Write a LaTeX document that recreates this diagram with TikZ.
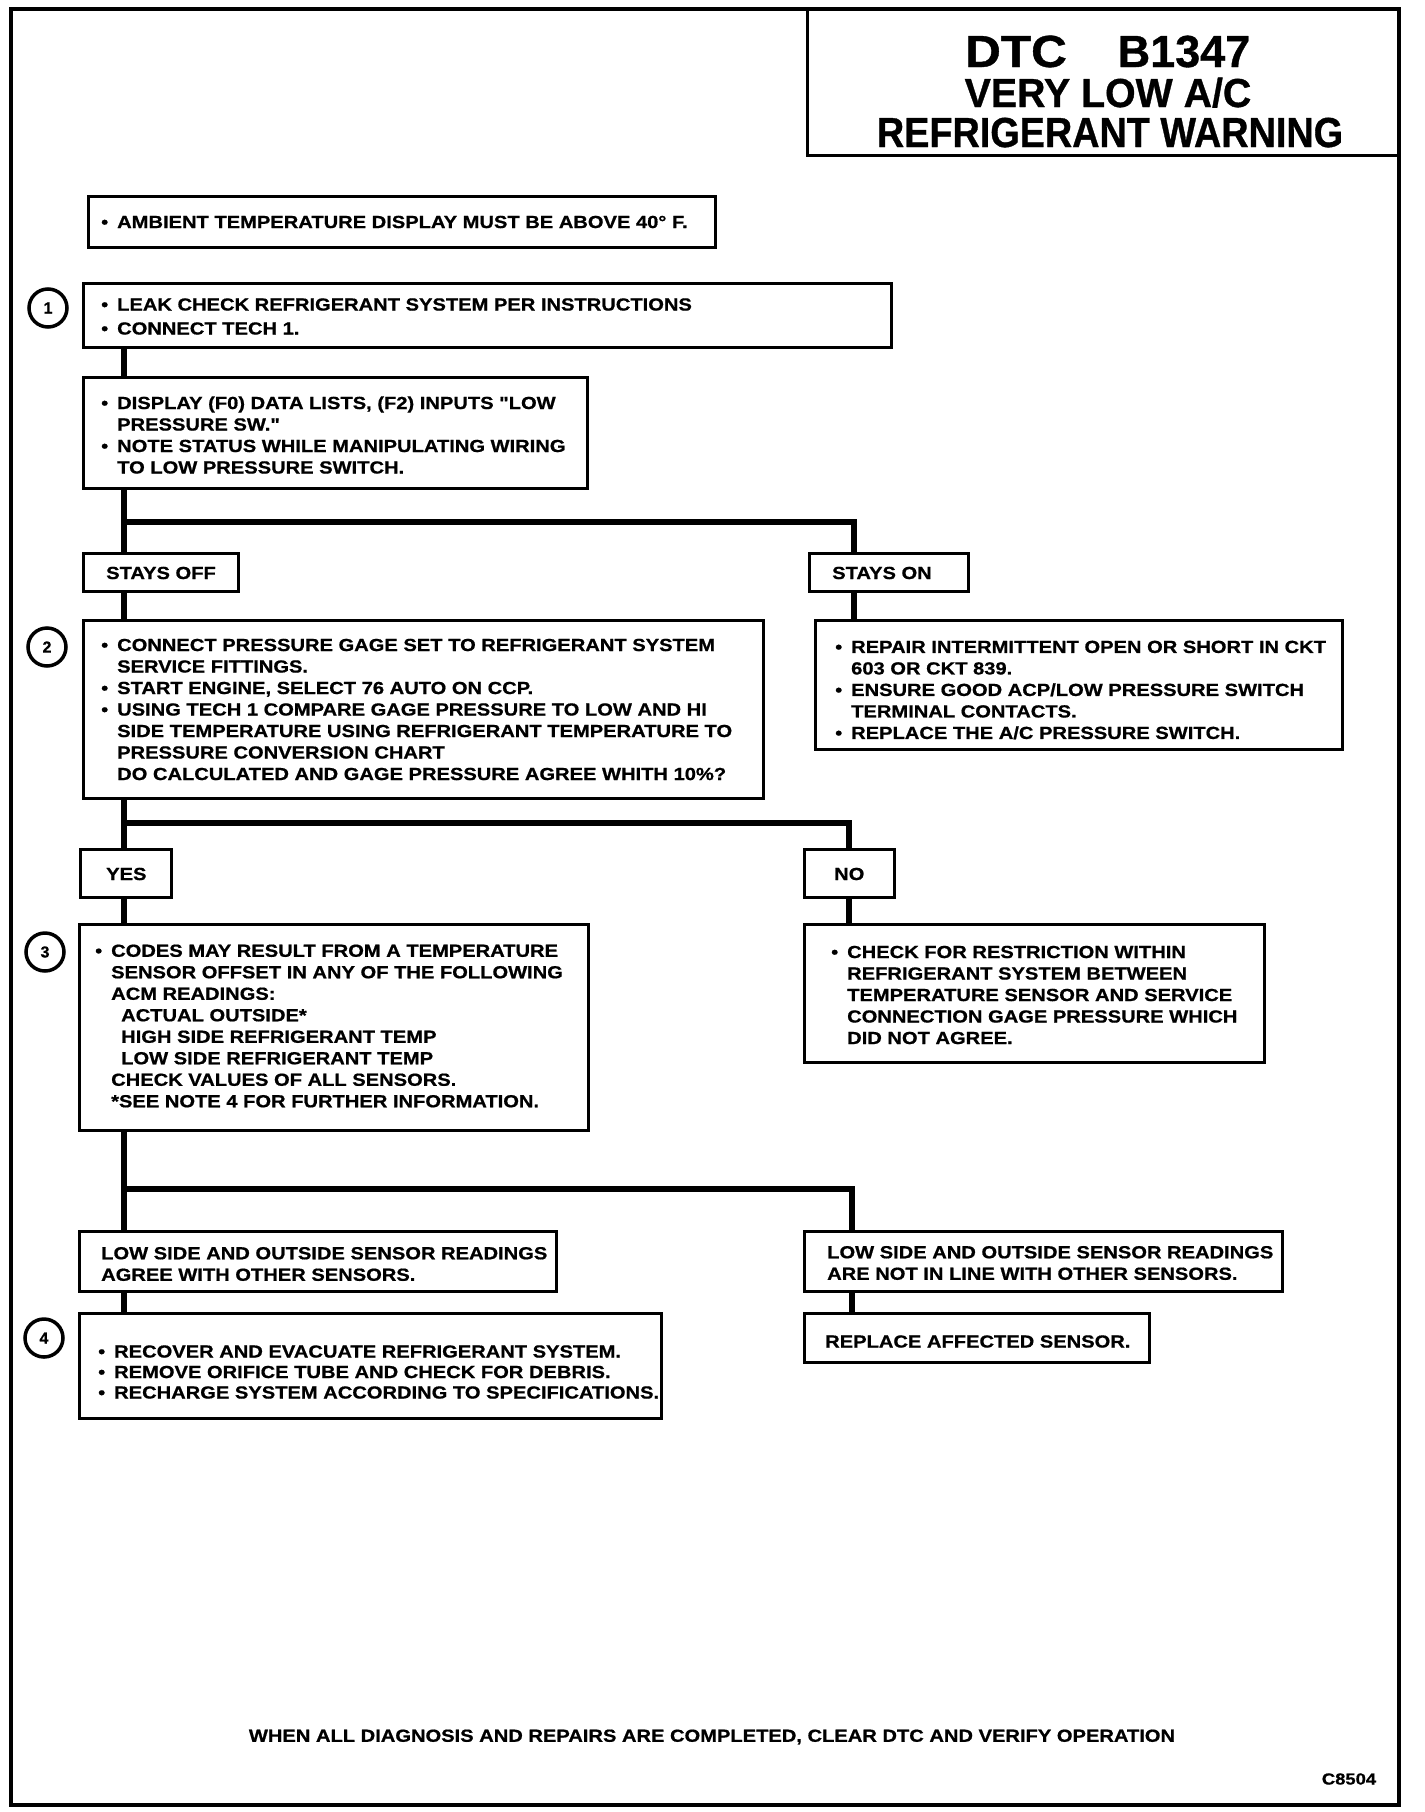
\documentclass[tikz,border=0pt]{standalone}
\usepackage{fontspec}
\usepackage{graphicx}
\usetikzlibrary{fit}
\newfontfamily\bodyf[FakeStretch=1.15,FakeBold=0.8]{Liberation Sans}
\newfontfamily\titlef[FakeBold=0.8]{Liberation Sans}
\newcommand{\myb}{\makebox[16pt][l]{•}}
\newcommand{\myi}{\hspace*{16pt}}
\begin{document}
\begin{tikzpicture}[x=1pt,y=-1pt,
  box/.style={draw, line width=3pt, inner sep=0pt},
  conn/.style={line width=6.5pt},
  txt/.style={inner sep=0pt, align=left, anchor=west, font={\bodyf\bfseries\fontsize{17.5pt}{21.5pt}\selectfont}},
  circ/.style={draw, circle, line width=3.5pt, minimum size=38pt, inner sep=0pt, font={\titlef\bfseries\fontsize{16pt}{16pt}\selectfont}},
  ttl/.style={inner sep=0pt, anchor=base}]
\useasboundingbox (0,0) rectangle (1424,1812);
% outer frame and title box
\draw[line width=3.5pt] (11,9) rectangle (1399,1805);
\draw[line width=3pt] (807,9) -- (807,155) -- (1399,155);
\node[ttl, font={\titlef\bfseries\fontsize{45pt}{45pt}\selectfont}] (tdtc) at (1016,67) {\scalebox{1.1}[1]{DTC}};
\node[ttl, font={\titlef\bfseries\fontsize{45pt}{45pt}\selectfont}] (tnum) at (1184,67) {B1347};
\node[ttl, font={\titlef\bfseries\fontsize{40.5pt}{40.5pt}\selectfont}] (tvery) at (1108,107) {\scalebox{0.97}[1]{VERY LOW A/C}};
\node[ttl, font={\titlef\bfseries\fontsize{42pt}{42pt}\selectfont}] (tref) at (1110,147) {\scalebox{0.9}[1]{REFRIGERANT WARNING}};

% boxes
\node[box, fit={(88,196) (715,247)}] (amb) {};
\node[box, fit={(83,283) (891,347)}] (b1) {};
\node[box, fit={(83,377) (587,488)}] (b2) {};
\node[box, fit={(83,553) (238,591)}] (off) {};
\node[box, fit={(809,553) (968,591)}] (on) {};
\node[box, fit={(83,620) (763,798)}] (b3) {};
\node[box, fit={(815,620) (1342,749)}] (rep) {};
\node[box, fit={(80,849) (171,897)}] (yes) {};
\node[box, fit={(804,849) (894,897)}] (no) {};
\node[box, fit={(79,924) (588,1130)}] (b4) {};
\node[box, fit={(804,924) (1264,1062)}] (chk) {};
\node[box, fit={(79,1231) (556,1291)}] (agr) {};
\node[box, fit={(804,1231) (1282,1291)}] (nil) {};
\node[box, fit={(79,1313) (661,1418)}] (b5) {};
\node[box, fit={(804,1313) (1149,1362)}] (rpl) {};

% circles
\node[circ] (c1) at (48,308) {1};
\node[circ] (c2) at (47,647) {2};
\node[circ] (c3) at (45,952) {3};
\node[circ] (c4) at (44,1338) {4};

% texts
\node[txt] (ambt) at (101,222) {\myb AMBIENT TEMPERATURE DISPLAY MUST BE ABOVE 40° F.};
\node[txt, font={\bodyf\bfseries\fontsize{17.5pt}{24pt}\selectfont}] (b1t) at (101,316.5) {\myb LEAK CHECK REFRIGERANT SYSTEM PER INSTRUCTIONS\\\myb CONNECT TECH 1.};
\node[txt] (b2t) at (101,435) {\myb DISPLAY (F0) DATA LISTS, (F2) INPUTS "LOW\\\myi PRESSURE SW."\\\myb NOTE STATUS WHILE MANIPULATING WIRING\\\myi TO LOW PRESSURE SWITCH.};
\node[txt] (offt) at (106,573) {STAYS OFF};
\node[txt] (ont) at (832,573) {STAYS ON};
\node[txt] (b3t) at (101,709.5) {\myb CONNECT PRESSURE GAGE SET TO REFRIGERANT SYSTEM\\\myi SERVICE FITTINGS.\\\myb START ENGINE, SELECT 76 AUTO ON CCP.\\\myb USING TECH 1 COMPARE GAGE PRESSURE TO LOW AND HI\\\myi SIDE TEMPERATURE USING REFRIGERANT TEMPERATURE TO\\\myi PRESSURE CONVERSION CHART\\\myi DO CALCULATED AND GAGE PRESSURE AGREE WHITH 10\%?};
\node[txt] (rept) at (835,690) {\myb REPAIR INTERMITTENT OPEN OR SHORT IN CKT\\\myi 603 OR CKT 839.\\\myb ENSURE GOOD ACP/LOW PRESSURE SWITCH\\\myi TERMINAL CONTACTS.\\\myb REPLACE THE A/C PRESSURE SWITCH.};
\node[txt] (yest) at (106,874) {YES};
\node[txt] (not) at (834,874) {NO};
\node[txt] (b4t) at (95,1026) {\makebox[16pt][l]{•}CODES MAY RESULT FROM A TEMPERATURE\\\hspace*{16pt}SENSOR OFFSET IN ANY OF THE FOLLOWING\\\hspace*{16pt}ACM READINGS:\\\hspace*{26pt}ACTUAL OUTSIDE*\\\hspace*{26pt}HIGH SIDE REFRIGERANT TEMP\\\hspace*{26pt}LOW SIDE REFRIGERANT TEMP\\\hspace*{16pt}CHECK VALUES OF ALL SENSORS.\\\hspace*{16pt}*SEE NOTE 4 FOR FURTHER INFORMATION.};
\node[txt] (chkt) at (831,995) {\makebox[16pt][l]{•}CHECK FOR RESTRICTION WITHIN\\\hspace*{16pt}REFRIGERANT SYSTEM BETWEEN\\\hspace*{16pt}TEMPERATURE SENSOR AND SERVICE\\\hspace*{16pt}CONNECTION GAGE PRESSURE WHICH\\\hspace*{16pt}DID NOT AGREE.};
\node[txt] (agrt) at (101,1264) {LOW SIDE AND OUTSIDE SENSOR READINGS\\AGREE WITH OTHER SENSORS.};
\node[txt] (nilt) at (827,1263) {LOW SIDE AND OUTSIDE SENSOR READINGS\\ARE NOT IN LINE WITH OTHER SENSORS.};
\node[txt, font={\bodyf\bfseries\fontsize{17.5pt}{20.5pt}\selectfont}] (b5t) at (98,1372) {\makebox[16pt][l]{•}RECOVER AND EVACUATE REFRIGERANT SYSTEM.\\\makebox[16pt][l]{•}REMOVE ORIFICE TUBE AND CHECK FOR DEBRIS.\\\makebox[16pt][l]{•}RECHARGE SYSTEM ACCORDING TO SPECIFICATIONS.};
\node[txt] (rplt) at (825,1341.5) {REPLACE AFFECTED SENSOR.};

\node[txt, anchor=center] (foot) at (712,1737) {WHEN ALL DIAGNOSIS AND REPAIRS ARE COMPLETED, CLEAR DTC AND VERIFY OPERATION};
\node[txt, anchor=center, font={\bodyf\bfseries\fontsize{16pt}{16pt}\selectfont}] (code) at (1349,1779) {C8504};

% connectors
\coordinate (tr) at (124,0);
\coordinate (j1) at (124,522);
\coordinate (r1) at (854,522);
\coordinate (j2) at (124,823);
\coordinate (r2) at (849,823);
\coordinate (j3) at (124,1189);
\coordinate (r3) at (852,1189);

\draw[conn] (tr |- b1.south) -- (tr |- b2.north);
\draw[conn] (tr |- b2.south) -- (tr |- off.north);
\draw[conn, line join=miter] (j1) -- (r1) -- (r1 |- on.north);
\draw[conn] (r1 |- on.south) -- (r1 |- rep.north);
\draw[conn] (tr |- off.south) -- (tr |- b3.north);
\draw[conn] (tr |- b3.south) -- (tr |- yes.north);
\draw[conn, line join=miter] (j2) -- (r2) -- (r2 |- no.north);
\draw[conn] (r2 |- no.south) -- (r2 |- chk.north);
\draw[conn] (tr |- yes.south) -- (tr |- b4.north);
\draw[conn] (tr |- b4.south) -- (tr |- agr.north);
\draw[conn, line join=miter] (j3) -- (r3) -- (r3 |- nil.north);
\draw[conn] (r3 |- nil.south) -- (r3 |- rpl.north);
\draw[conn] (tr |- agr.south) -- (tr |- b5.north);
\end{tikzpicture}
\end{document}
